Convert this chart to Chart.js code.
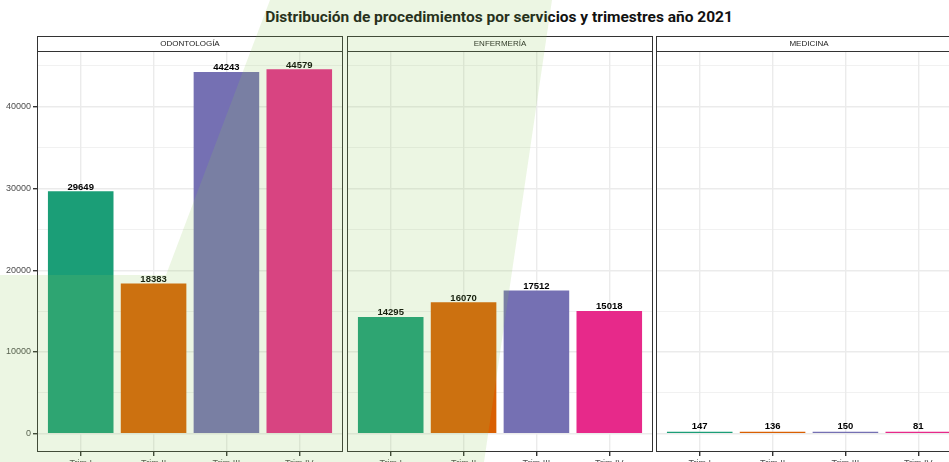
<!DOCTYPE html>
<html>
<head>
<meta charset="utf-8">
<script src="https://cdn.jsdelivr.net/npm/chart.js@4.4.1/dist/chart.umd.min.js"></script>
<style>
  html, body { margin: 0; padding: 0; background: #fff; }
  body { width: 949px; height: 462px; overflow: hidden; position: relative; }
  canvas { position: absolute; top: 0; }
  #title {
    position: absolute; left: 37px; width: 924px; top: 8px;
    text-align: center; font: bold 15.5px Roboto, sans-serif; color: #111;
  }
  /* pale green wash that sits over the figure in the reference */
  #wash {
    position: absolute; left: 0; top: 0; width: 949px; height: 462px;
    background: rgba(140, 200, 90, 0.17); pointer-events: none;
    clip-path: polygon(270px 0, 552px 0, 484px 462px, 0 462px, 0 275px, 166px 275px);
  }
</style>
</head>
<body>
<div id="title">Distribución de procedimientos por servicios y trimestres año 2021</div>
<canvas id="p1" width="343" height="462" style="left:0px"></canvas>
<canvas id="p2" width="306" height="462" style="left:347px"></canvas>
<canvas id="p3" width="306" height="462" style="left:656px"></canvas>
<div id="wash"></div>
<script>
// data
const quarters = ['Trim I', 'Trim II', 'Trim III', 'Trim IV'];
const services = ['ODONTOLOGÍA', 'ENFERMERÍA', 'MEDICINA'];
const odontologia = [29649, 18383, 44243, 44579];
const enfermeria = [14295, 16070, 17512, 15018];
const medicina = [147, 136, 150, 81];
const yTickLabels = [0, 10000, 20000, 30000, 40000];
const quarterColors = ['#1B9E77', '#D95F02', '#7570B3', '#E7298A'];

const FONT = "'Liberation Sans', Arial, sans-serif";
const allValues = odontologia.concat(enfermeria, medicina);
const topValue = Math.max(...allValues);
const yMin = -0.05 * topValue;
const yMax = 1.05 * topValue;

// strip header, panel border and value labels
const panelPlugin = {
  id: 'panel',
  afterDatasetsDraw(chart) {
    const ctx = chart.ctx;
    const meta = chart.getDatasetMeta(0);
    const vals = chart.data.datasets[0].data;
    ctx.save();
    ctx.font = 'bold 9.5px ' + FONT;
    ctx.fillStyle = '#000';
    ctx.textAlign = 'center';
    ctx.textBaseline = 'bottom';
    meta.data.forEach((bar, i) => {
      ctx.fillText(String(vals[i].y), bar.x, Math.min(bar.y, bar.base - 2) + 0.5);
    });
    ctx.restore();
  },
  afterDraw(chart, args, opts) {
    const ctx = chart.ctx;
    const a = chart.chartArea;
    ctx.save();
    ctx.strokeStyle = '#333';
    ctx.lineWidth = 1;
    ctx.strokeRect(a.left + 0.5, a.top + 0.5, a.right - a.left - 1, a.bottom - a.top - 1);
    // strip
    const sh = 15;
    ctx.fillStyle = '#fff';
    ctx.fillRect(a.left, a.top - sh, a.right - a.left, sh);
    ctx.strokeRect(a.left + 0.5, a.top - sh + 0.5, a.right - a.left - 1, sh);
    ctx.fillStyle = '#1a1a1a';
    ctx.font = '8px ' + FONT;
    ctx.textAlign = 'center';
    ctx.textBaseline = 'middle';
    ctx.fillText(opts.label, (a.left + a.right) / 2, a.top - sh / 2 + 0.5);
    ctx.restore();
  }
};

function makePanel(id, label, values, showY) {
  const points = values.map((v, i) => ({ x: i + 1, y: v }));
  new Chart(document.getElementById(id), {
    type: 'bar',
    data: {
      datasets: [{
        data: points,
        backgroundColor: quarterColors,
        borderWidth: 0,
        minBarLength: 2,
        barPercentage: 0.9,
        categoryPercentage: 1
      }]
    },
    options: {
      responsive: false,
      animation: false,
      events: [],
      layout: { padding: { top: 51, right: 0, left: 0, bottom: 0 } },
      plugins: {
        legend: { display: false },
        tooltip: { enabled: false },
        panel: { label: label }
      },
      scales: {
        x: {
          type: 'linear',
          offset: false,
          min: 0.4,
          max: 4.6,
          afterBuildTicks: s => { s.ticks = quarters.map((q, i) => ({ value: i + 1 })); },
          afterFit: s => { s.height = 10; },
          border: { display: false },
          grid: { offset: false, color: '#ebebeb', lineWidth: 1.4, tickColor: '#333', tickLength: 4 },
          ticks: {
            autoSkip: false, maxRotation: 0, padding: 2,
            color: '#4d4d4d', font: { family: FONT, size: 9 },
            callback: v => quarters[v - 1]
          }
        },
        y: {
          min: yMin,
          max: yMax,
          afterBuildTicks: s => {
            const t = [];
            for (let v = 0; v <= yMax; v += 5000) t.push({ value: v });
            s.ticks = t;
          },
          afterFit: s => { s.width = showY ? 37 : 0; },
          border: { display: false },
          grid: {
            color: '#ebebeb',
            lineWidth: c => (c.tick && c.tick.value % 10000 === 0) ? 1.4 : 0.7,
            drawTicks: showY,
            tickLength: 4,
            tickColor: c => (c.tick && c.tick.value % 10000 === 0) ? '#333' : 'rgba(0,0,0,0)'
          },
          ticks: {
            display: showY, autoSkip: false, padding: 2,
            color: '#4d4d4d', font: { family: FONT, size: 9 },
            callback: v => yTickLabels.includes(v) ? String(v) : ''
          }
        }
      }
    },
    plugins: [panelPlugin]
  });
}

makePanel('p1', services[0], odontologia, true);
makePanel('p2', services[1], enfermeria, false);
makePanel('p3', services[2], medicina, false);
</script>
</body>
</html>
